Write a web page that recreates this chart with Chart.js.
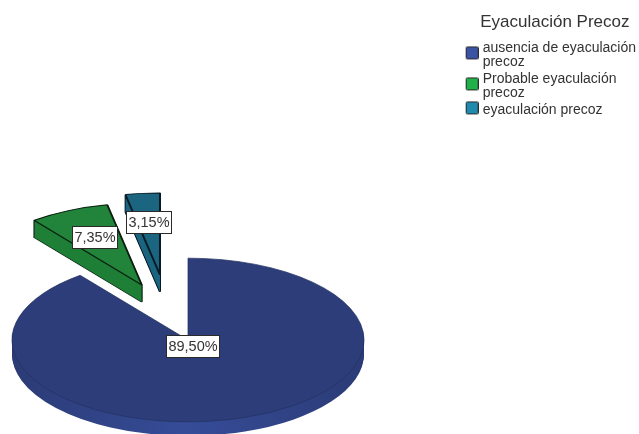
<!DOCTYPE html>
<html>
<head>
<meta charset="utf-8">
<title>Eyaculación Precoz</title>
<script src="https://cdn.jsdelivr.net/npm/chart.js@4/dist/chart.umd.js"></script>
<style>
body { margin: 0; background: #fff; }
canvas { display: block; }
</style>
</head>
<body>
<canvas id="pie" width="639" height="434"></canvas>
<script>
// data
var categories = [["ausencia de eyaculación", "precoz"], ["Probable eyaculación", "precoz"], "eyaculación precoz"]
var values = [89.50, 7.35, 3.15]

// colours
var topColors = ["#2d3d79", "#22843a", "#1c6580"]
var rimColors = ["#354a94", "#1f7f37", "#1c6580"]
var lineColors = ["#243261", "#0a1f10", "#081a24"]
var legendColors = ["#3a53a4", "#22b04a", "#1f8aad"]

// how the round pie gets tilted and pulled apart
var view = { cx: 188, cy: 340, squash: 0.465 }
var pullDist = [0, 127, 143]
var pullAngle = [0, -21.3, -11.3]
var rimDepth = [14, 17, 17]
var labelRadius = [0.083, 0.65, 0.65]
var swatchDrop = [5, 5, -2]

function withOptions(arc, changes, ctx){
    var old = arc.options
    arc.options = Object.assign({}, old, changes)
    arc.draw(ctx)
    arc.options = old
}

function place(ctx, arc, i, drop){
    var a = pullAngle[i] * Math.PI / 180
    var dx = pullDist[i] * Math.sin(a)
    var dy = -pullDist[i] * Math.cos(a) * view.squash
    ctx.setTransform(1, 0, 0, view.squash, view.cx + dx - arc.x, view.cy + dy + drop - arc.y * view.squash)
}

// legend box as a small canvas so it can sit lower than the first text line
function makeSwatch(color, drop){
    var c = document.createElement("canvas")
    c.width = 15
    c.height = 34
    var g = c.getContext("2d")
    var top = 17 - 7 + drop + 0.5
    g.beginPath()
    g.roundRect(2.5, top, 12, 12, 1)
    g.fillStyle = color
    g.fill()
    g.strokeStyle = "#2a2a2a"
    g.lineWidth = 1
    g.stroke()
    return c
}

var tiltedPie = {
    id: "tiltedPie",
    beforeDatasetsDraw: function(chart){
        var ctx = chart.ctx
        var arcs = chart.getDatasetMeta(0).data

        ctx.save()
        arcs.forEach(function(arc, i){
            var rim = rimColors[i]
            if(i == 0){
                // the big slice gets lighter toward the front
                rim = ctx.createLinearGradient(arc.x - arc.outerRadius, 0, arc.x + arc.outerRadius, 0)
                rim.addColorStop(0, "#2b3b76")
                rim.addColorStop(0.5, "#364c98")
                rim.addColorStop(1, "#2b3b76")
            } else {
                // outline of the side wall
                for(var d = rimDepth[i]; d > 0; d--){
                    place(ctx, arc, i, d)
                    withOptions(arc, { backgroundColor: lineColors[i], borderColor: lineColors[i], borderWidth: 2 }, ctx)
                }
            }
            for(var d = rimDepth[i]; d > 0; d--){
                place(ctx, arc, i, d)
                withOptions(arc, { backgroundColor: rim, borderWidth: 0 }, ctx)
            }
            place(ctx, arc, i, 0)
            withOptions(arc, { backgroundColor: topColors[i], borderColor: lineColors[i], borderWidth: i == 0 ? 1 : 2 }, ctx)
        })
        ctx.restore()

        // value labels
        ctx.save()
        ctx.font = "14.5px 'Liberation Sans'"
        ctx.textAlign = "center"
        ctx.textBaseline = "middle"
        arcs.forEach(function(arc, i){
            var a = pullAngle[i] * Math.PI / 180
            var mid = (arc.startAngle + arc.endAngle) / 2
            var r = arc.outerRadius * labelRadius[i]
            var x = view.cx + pullDist[i] * Math.sin(a) + Math.cos(mid) * r
            var y = view.cy + (-pullDist[i] * Math.cos(a) + Math.sin(mid) * r) * view.squash
            var text = values[i].toFixed(2).replace(".", ",") + "%"
            var w = Math.round(ctx.measureText(text).width + 4)
            var left = Math.round(x - w / 2) + 0.5
            var top = Math.round(y - 11) + 0.5
            ctx.fillStyle = "#fff"
            ctx.strokeStyle = "#2a2a2a"
            ctx.lineWidth = 1
            ctx.fillRect(left, top, w, 22)
            ctx.strokeRect(left, top, w, 22)
            ctx.fillStyle = "#333"
            ctx.fillText(text, left + w / 2, top + 11.5)
        })
        ctx.restore()
        return false
    }
}

var chart = new Chart(document.getElementById("pie"), {
    type: "pie",
    plugins: [tiltedPie],
    data: {
        labels: categories,
        datasets: [
            {
                data: values,
                backgroundColor: topColors
            }
        ]
    },
    options: {
        responsive: false,
        animation: false,
        events: [],
        radius: 176,
        layout: {
            padding: { top: 14, right: -7 }
        },
        plugins: {
            tooltip: { enabled: false },
            legend: {
                position: "right",
                align: "start",
                title: {
                    display: true,
                    text: "Eyaculación Precoz",
                    color: "#333",
                    font: { family: "'Liberation Sans'", size: 17 },
                    padding: { top: 0, bottom: 4 }
                },
                labels: {
                    usePointStyle: true,
                    boxWidth: 9,
                    boxHeight: 13,
                    padding: 3,
                    color: "#222",
                    font: { family: "'Liberation Sans'", size: 14, lineHeight: 1 },
                    generateLabels: function(chart){
                        return categories.map(function(name, i){
                            return {
                                text: name,
                                pointStyle: makeSwatch(legendColors[i], swatchDrop[i]),
                                fillStyle: legendColors[i],
                                strokeStyle: "#2a2a2a",
                                lineWidth: 1,
                                index: i
                            }
                        })
                    }
                }
            }
        }
    }
})
</script>
</body>
</html>
